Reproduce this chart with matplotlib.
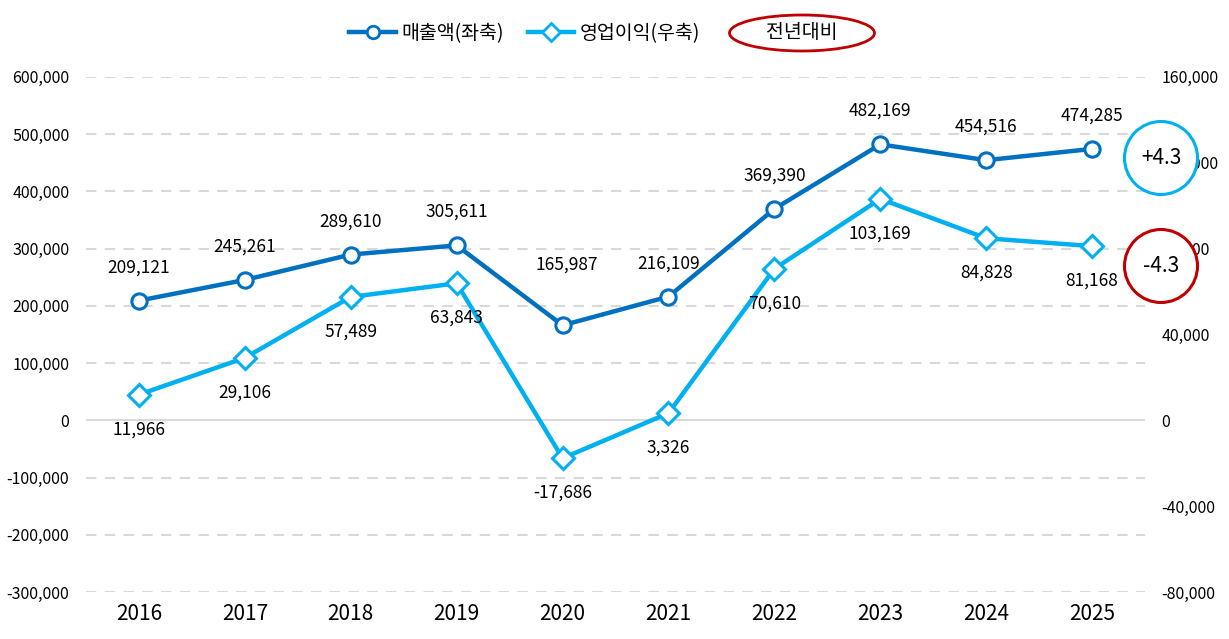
import matplotlib
matplotlib.use('Agg')
import matplotlib.pyplot as plt
from matplotlib.lines import Line2D
from matplotlib.patches import Ellipse
from matplotlib.ticker import FuncFormatter

plt.rcParams['font.family'] = ['Noto Sans CJK KR', 'DejaVu Sans']

# data
years = ['2016', '2017', '2018', '2019', '2020', '2021', '2022', '2023', '2024', '2025']
sales = [209121, 245261, 289610, 305611, 165987, 216109, 369390, 482169, 454516, 474285]
op_profit = [11966, 29106, 57489, 63843, -17686, 3326, 70610, 103169, 84828, 81168]
sales_label = '매출액(좌축)'
op_label = '영업이익(우축)'
yoy_label = '전년대비'

left_ticks = [-300000, -200000, -100000, 0, 100000, 200000, 300000, 400000, 500000, 600000]
right_ticks = [-80000, -40000, 0, 40000, 80000, 120000, 160000]

DARK = '#0070C0'
LIGHT = '#00B0F0'
RED = '#C00000'
GRID = '#D9D9D9'

# label nudges (points) for crowded spots
sales_off = {4: (3, 44)}

fmt = FuncFormatter(lambda v, p: '{:,.0f}'.format(v))

fig = plt.figure(figsize=(12.29, 6.39), dpi=100)
ax = fig.add_axes([0.070, 0.0736, 0.8617, 0.806])
ax2 = ax.twinx()

x = list(range(len(years)))

ax.set_xlim(-0.5, len(years) - 0.5)
ax.set_ylim(left_ticks[0], left_ticks[-1])
ax.set_yticks(left_ticks)
ax.yaxis.set_major_formatter(fmt)
ax2.set_ylim(right_ticks[0], right_ticks[-1])
ax2.set_yticks(right_ticks)
ax2.yaxis.set_major_formatter(fmt)

for t in left_ticks:
    if t == 0:
        ax.axhline(t, color=GRID, lw=1.5, zorder=0)
    else:
        ax.axhline(t, color=GRID, lw=1.5, ls=(0, (5, 4)), zorder=0)

for a in (ax, ax2):
    for s in a.spines.values():
        s.set_visible(False)
ax.tick_params(axis='y', length=0, pad=12, labelsize=11.5)
ax2.tick_params(axis='y', length=0, pad=12, labelsize=11.5)
ax.set_xticks(x)
ax.set_xticklabels(years)
ax.tick_params(axis='x', length=0, pad=8, labelsize=15)

ax.plot(x, sales, color=DARK, lw=3.2, marker='o', ms=11, mfc='white', mec=DARK, mew=2.2, zorder=3)
ax2.plot(x, op_profit, color=LIGHT, lw=3.2, marker='D', ms=11, mfc='white', mec=LIGHT, mew=2.2, zorder=3)

for i, v in enumerate(sales):
    dx, dy = sales_off.get(i, (0, 24))
    ax.annotate('{:,}'.format(v), (i, v), xytext=(dx, dy), textcoords='offset points',
                ha='center', va='center', fontsize=12.5)
for i, v in enumerate(op_profit):
    ax2.annotate('{:,}'.format(v), (i, v), xytext=(0, -25), textcoords='offset points',
                 ha='center', va='center', fontsize=12.5)

# legend
handles = [
    Line2D([], [], color=DARK, lw=3.2, marker='o', ms=9, mfc='white', mec=DARK, mew=2),
    Line2D([], [], color=LIGHT, lw=3.2, marker='D', ms=9, mfc='white', mec=LIGHT, mew=2),
]
fig.legend(handles, [sales_label, op_label], loc='center', bbox_to_anchor=(0.427, 0.948),
           ncol=2, frameon=False, fontsize=14, handlelength=2.4, handletextpad=0.3,
           columnspacing=1.2)
fig.add_artist(Ellipse((802 / 1229, 1 - 33 / 639), 145 / 1229, 36 / 639,
                       transform=fig.transFigure, fc='white', ec=RED, lw=2))
fig.text(802 / 1229, 1 - 33 / 639, yoy_label, ha='center', va='center', fontsize=14)

# yoy change circles
sales_chg = (sales[-1] - sales[-2]) / sales[-2] * 100
op_chg = (op_profit[-1] - op_profit[-2]) / op_profit[-2] * 100
for cy, val, col in [(158, sales_chg, LIGHT), (266, op_chg, RED)]:
    fig.add_artist(Ellipse((1161 / 1229, 1 - cy / 639), 73 / 1229, 73 / 639,
                           transform=fig.transFigure, fc='white', ec=col, lw=2.2))
    fig.text(1161 / 1229, 1 - cy / 639, '{:+.1f}'.format(val), ha='center', va='center',
             fontsize=15)

fig.savefig('out.png', dpi=100)
